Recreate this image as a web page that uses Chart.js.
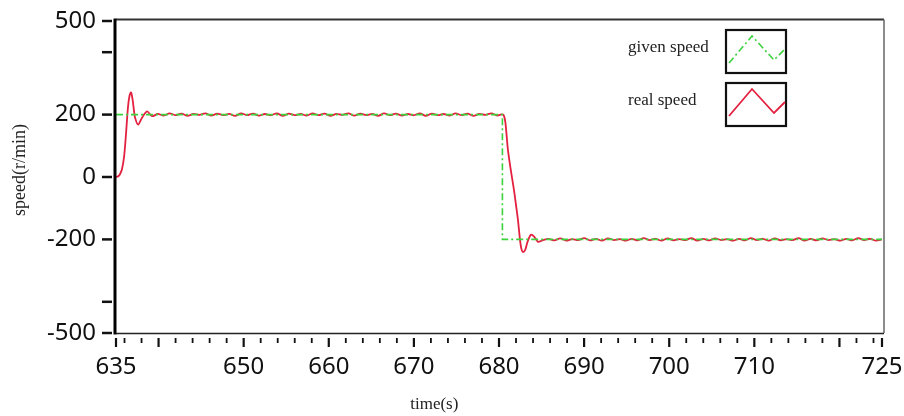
<!DOCTYPE html>
<html>
<head>
<meta charset="utf-8">
<script src="https://cdn.jsdelivr.net/npm/chart.js@4.4.1/dist/chart.umd.min.js"></script>
<style>
  html, body { margin: 0; padding: 0; background: #fff; }
  #wrap { width: 904px; height: 416px; }
</style>
</head>
<body>
<div id="wrap"><canvas id="speed-chart" width="904" height="416"></canvas></div>
<script>
// given speed: step from 200 to -200 r/min
const givenTime = [635, 680.4, 680.4, 725];
const givenSpeed = [200, 200, -200, -200];

// measured speed (start-up, steady 200, reversal, steady -200)
const realTime = [
  635.0, 635.24, 635.45, 635.7, 635.95, 636.18, 636.41, 636.6, 636.77, 636.95, 637.1, 637.24, 637.6, 638.06, 638.65, 639.24,
  639.9, 640.6, 641.3, 642.0, 642.7, 643.4, 644.1, 644.8, 645.5, 646.2,
  646.9, 647.6, 648.3, 649.0, 649.7, 650.4, 651.1, 651.8, 652.5, 653.2,
  653.9, 654.6, 655.3, 656.0, 656.7, 657.4, 658.1, 658.8, 659.5, 660.2,
  660.9, 661.6, 662.3, 663.0, 663.7, 664.4, 665.1, 665.8, 666.5, 667.2,
  667.9, 668.6, 669.3, 670.0, 670.7, 671.4, 672.1, 672.8, 673.5, 674.2,
  674.9, 675.6, 676.3, 677.0, 677.7, 678.4, 679.1, 679.8,
  680.3, 680.55, 680.75, 681.05, 681.4, 681.76, 682.0, 682.23, 682.47, 682.65, 682.85, 683.1, 683.35, 683.75, 684.1, 684.6, 685.1,
  685.8, 686.5, 687.2, 687.9, 688.6, 689.3, 690.0, 690.7, 691.4, 692.1,
  692.8, 693.5, 694.2, 694.9, 695.6, 696.3, 697.0, 697.7, 698.4, 699.1,
  699.8, 700.5, 701.2, 701.9, 702.6, 703.3, 704.0, 704.7, 705.4, 706.1,
  706.8, 707.5, 708.2, 708.9, 709.6, 710.3, 711.0, 711.7, 712.4, 713.1,
  713.8, 714.5, 715.2, 715.9, 716.6, 717.3, 718.0, 718.7, 719.4, 720.1,
  720.8, 721.5, 722.2, 722.9, 723.6, 724.3, 725.0
];
const realSpeed = [
  0, 2, 8, 25, 65, 140, 225, 262, 271, 248, 215, 190, 168, 190, 210, 195,
  202, 197, 204, 198, 203, 196, 202, 199, 204, 197,
  203, 198, 202, 196, 204, 198, 203, 197, 202, 198,
  204, 196, 203, 198, 202, 197, 204, 198, 203, 196,
  202, 199, 204, 197, 203, 198, 202, 196, 204, 198,
  203, 197, 202, 198, 204, 196, 203, 198, 202, 197,
  204, 198, 203, 196, 202, 199, 204, 197,
  201, 198, 175, 87, 20, -42, -90, -138, -202, -232, -241, -232, -208, -185, -190, -208, -203,
  -198, -203, -197, -204, -199, -202, -196, -203, -198, -204,
  -197, -202, -199, -204, -198, -203, -196, -202, -198, -204,
  -197, -203, -199, -202, -196, -204, -198, -203, -197, -202,
  -199, -204, -198, -203, -196, -202, -198, -204, -197, -203,
  -199, -202, -196, -204, -198, -203, -197, -202, -199, -204,
  -198, -203, -196, -202, -198, -204, -200
];

// axis ticks
const yTickValues = [-500, -400, -200, 0, 200, 400, 500];
const yLabelValues = [-500, -200, 0, 200, 500];
const xLabelValues = [635, 650, 660, 670, 680, 690, 700, 710, 725];
const xMajorTicks = [635, 640, 650, 660, 670, 680, 690, 700, 710, 720, 725];
const xMinorStep = 2;

const xTickValues = [635];
for (let v = 636; v < 725; v += xMinorStep) xTickValues.push(v);
xTickValues.push(725);

const toPoints = (xs, ys) => xs.map((t, i) => ({ x: t, y: ys[i] }));

const serif = '"Liberation Serif", "Times New Roman", serif';

// keep the edge labels from pushing the plot area inwards
function noLabelPadding(s) {
  s.paddingLeft = 0;
  s.paddingRight = 0;
  s.paddingTop = 0;
  s.paddingBottom = 0;
}

// frame, tick marks, legend and axis titles
const decor = {
  id: 'decor',
  afterDraw(chart) {
    const { ctx, chartArea: a, scales: { x, y } } = chart;
    ctx.save();
    ctx.strokeStyle = '#111';

    ctx.lineWidth = 2.5;
    yTickValues.forEach(v => {
      const py = y.getPixelForValue(v);
      ctx.beginPath(); ctx.moveTo(a.left - 14, py); ctx.lineTo(a.left - 4, py); ctx.stroke();
    });

    x.ticks.forEach(t => {
      const major = xMajorTicks.includes(t.value);
      const px = x.getPixelForValue(t.value);
      ctx.lineWidth = major ? 2.2 : 1.8;
      ctx.beginPath();
      ctx.moveTo(px, a.bottom + 5);
      ctx.lineTo(px, a.bottom + (major ? 14 : 10));
      ctx.stroke();
    });

    // plot frame
    ctx.lineWidth = 2;
    ctx.strokeStyle = '#333';
    ctx.beginPath(); ctx.moveTo(a.left, a.top - 1.5); ctx.lineTo(a.right + 2, a.top - 1.5); ctx.stroke();
    ctx.lineWidth = 1.5;
    ctx.strokeStyle = '#666';
    ctx.beginPath(); ctx.moveTo(a.right + 2, a.top - 1.5); ctx.lineTo(a.right + 2, a.bottom); ctx.stroke();
    ctx.strokeStyle = '#222';
    ctx.beginPath(); ctx.moveTo(a.left, a.bottom + 0.5); ctx.lineTo(a.right + 2, a.bottom + 0.5); ctx.stroke();
    ctx.lineWidth = 3;
    ctx.strokeStyle = '#000';
    ctx.beginPath(); ctx.moveTo(a.left - 1, a.top - 2.5); ctx.lineTo(a.left - 1, a.bottom + 1.5); ctx.stroke();

    // legend
    const boxL = a.right - 156, boxW = 60, boxH = 43;
    chart.data.datasets.forEach((ds, i) => {
      const top = a.top + 9 + i * 53;
      ctx.font = '17px ' + serif;
      ctx.fillStyle = '#222';
      ctx.textAlign = 'left';
      ctx.textBaseline = 'middle';
      ctx.fillText(ds.label, a.right - 254, top + 18);

      ctx.lineWidth = 2.2;
      ctx.strokeStyle = '#111';
      ctx.setLineDash([]);
      ctx.strokeRect(boxL, top, boxW, boxH);

      ctx.strokeStyle = ds.borderColor;
      ctx.lineWidth = ds.borderWidth;
      ctx.setLineDash(ds.borderDash || []);
      ctx.beginPath();
      ctx.moveTo(boxL + 3, top + 33);
      ctx.lineTo(boxL + 26, top + 6);
      ctx.lineTo(boxL + 48, top + 30);
      ctx.lineTo(boxL + 59, top + 19);
      ctx.stroke();
      ctx.setLineDash([]);
    });

    // axis titles
    ctx.fillStyle = '#222';
    ctx.font = '17px ' + serif;
    ctx.textAlign = 'center';
    ctx.textBaseline = 'middle';
    ctx.fillText('time(s)', x.getPixelForValue(672.4), 405);
    ctx.translate(20, 170);
    ctx.rotate(-Math.PI / 2);
    ctx.font = '18px ' + serif;
    ctx.fillText('speed(r/min)', 0, 0);
    ctx.restore();
  }
};

const ctx = document.getElementById('speed-chart').getContext('2d');
new Chart(ctx, {
  type: 'line',
  data: {
    datasets: [
      {
        label: 'given speed',
        data: toPoints(givenTime, givenSpeed),
        borderColor: '#3dd13d',
        borderWidth: 1.6,
        borderDash: [7, 3, 2, 3],
        pointRadius: 0,
        tension: 0,
        order: 0
      },
      {
        label: 'real speed',
        data: toPoints(realTime, realSpeed),
        borderColor: '#e3203f',
        borderWidth: 1.8,
        pointRadius: 0,
        tension: 0.3,
        order: 1
      }
    ]
  },
  options: {
    responsive: false,
    animation: false,
    layout: { padding: { left: 0, top: 21, right: 22, bottom: 0 } },
    plugins: {
      legend: { display: false },
      tooltip: { enabled: false }
    },
    scales: {
      x: {
        type: 'linear',
        min: 635,
        max: 725,
        border: { display: false },
        grid: { display: false, drawTicks: false },
        afterBuildTicks: s => { s.ticks = xTickValues.map(v => ({ value: v })); },
        afterFit: s => { s.height = 83; noLabelPadding(s); },
        ticks: {
          autoSkip: false,
          maxRotation: 0,
          padding: 20,
          color: '#111',
          font: { family: '"Noto Sans", "Open Sans", sans-serif', size: 24 },
          callback: v => (xLabelValues.includes(v) ? String(v) : '')
        }
      },
      y: {
        min: -500,
        max: 500,
        border: { display: false },
        grid: { display: false, drawTicks: false },
        afterBuildTicks: s => { s.ticks = yTickValues.map(v => ({ value: v })); },
        afterFit: s => { s.width = 116; noLabelPadding(s); },
        ticks: {
          autoSkip: false,
          padding: 20,
          color: '#111',
          font: { family: '"Noto Sans", "Open Sans", sans-serif', size: 24 },
          callback: v => (yLabelValues.includes(v) ? String(v) : '')
        }
      }
    }
  },
  plugins: [decor]
});
</script>
</body>
</html>
